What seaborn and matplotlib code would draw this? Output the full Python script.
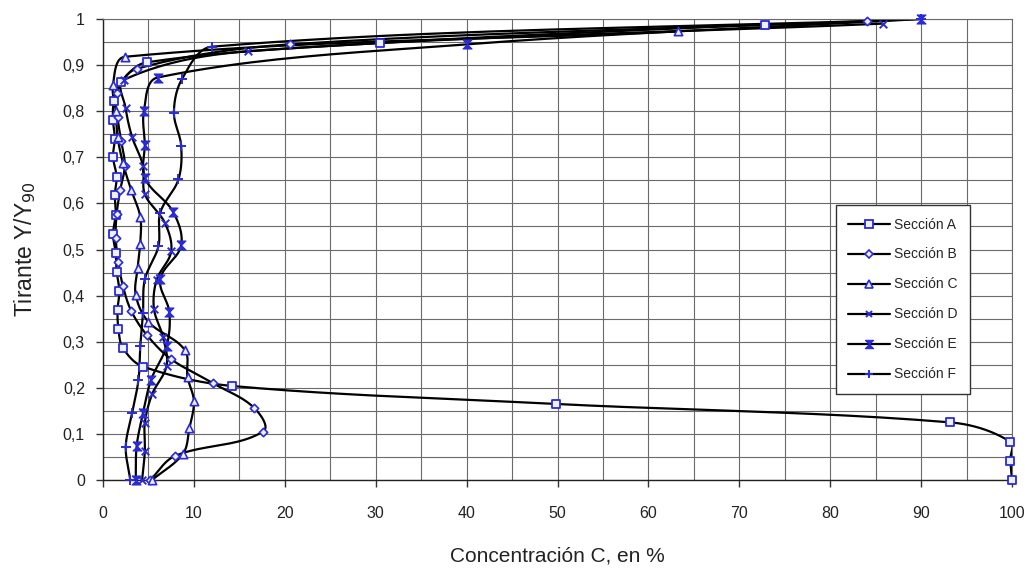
import numpy as np
import pandas as pd
import matplotlib
matplotlib.use("Agg")
import matplotlib.pyplot as plt
from matplotlib.lines import Line2D
from matplotlib.ticker import MultipleLocator, FuncFormatter
import seaborn as sns

# ---------------- data ----------------
sections = ["Sección A", "Sección B", "Sección C", "Sección D", "Sección E", "Sección F"]

a_y = [0, 0.042, 0.083, 0.125, 0.165, 0.204, 0.246, 0.286, 0.327, 0.369, 0.41, 0.452,
       0.492, 0.533, 0.575, 0.618, 0.658, 0.70, 0.74, 0.78, 0.822, 0.864, 0.906, 0.948, 0.988]
a_x = [100, 99.8, 99.8, 93.2, 49.8, 14.2, 4.4, 2.2, 1.7, 1.6, 1.8, 1.5,
       1.4, 1.1, 1.4, 1.3, 1.5, 1.1, 1.3, 1.1, 1.2, 2.0, 4.8, 30.5, 72.8]

b_y = [0, 0.052, 0.105, 0.157, 0.21, 0.262, 0.315, 0.367, 0.42, 0.472, 0.525, 0.577,
       0.63, 0.682, 0.735, 0.787, 0.84, 0.892, 0.945, 0.995]
b_x = [5.2, 7.9, 17.6, 16.6, 12.1, 7.5, 4.8, 3.1, 2.2, 1.7, 1.4, 1.5,
       1.9, 2.4, 2.0, 1.6, 1.5, 3.7, 20.6, 84.0]

c_y = [0, 0.057, 0.112, 0.171, 0.223, 0.282, 0.343, 0.401, 0.459, 0.513, 0.571, 0.629,
       0.687, 0.745, 0.80, 0.857, 0.918, 0.973]
c_x = [5.4, 8.8, 9.5, 10.0, 9.3, 9.0, 5.0, 3.6, 3.8, 4.1, 4.1, 3.1,
       2.2, 1.6, 1.4, 1.1, 2.4, 63.3]

d_y = [0, 0.062, 0.124, 0.186, 0.248, 0.31, 0.372, 0.434, 0.496, 0.558, 0.62, 0.682,
       0.744, 0.806, 0.868, 0.93, 0.99]
d_x = [4.3, 4.6, 4.6, 5.4, 7.0, 6.6, 5.6, 5.9, 7.5, 6.8, 4.6, 4.4,
       3.2, 2.5, 2.3, 16.0, 85.8]

e_y = [0, 0.073, 0.145, 0.218, 0.291, 0.364, 0.436, 0.509, 0.582, 0.655, 0.727, 0.80,
       0.873, 0.945, 1.0]
e_x = [3.6, 3.7, 4.4, 5.3, 7.0, 7.3, 6.3, 8.6, 7.7, 4.6, 4.6, 4.5,
       6.0, 40.0, 90.0]

f_y = [0, 0.072, 0.145, 0.217, 0.29, 0.362, 0.435, 0.507, 0.58, 0.652, 0.725, 0.797,
       0.87, 0.94, 1.0]
f_x = [3.0, 2.5, 3.2, 3.9, 4.1, 4.4, 4.6, 6.1, 6.3, 8.3, 8.6, 7.8,
       8.7, 12.0, 90.0]

x_ticks = [0, 10, 20, 30, 40, 50, 60, 70, 80, 90, 100]
y_ticks = [0, 0.1, 0.2, 0.3, 0.4, 0.5, 0.6, 0.7, 0.8, 0.9, 1.0]

series_x = [a_x, b_x, c_x, d_x, e_x, f_x]
series_y = [a_y, b_y, c_y, d_y, e_y, f_y]

# ---------------- style ----------------
sns.set_theme(style="white")
plt.rcParams["font.family"] = ["Liberation Sans", "DejaVu Sans"]

BLUE = "#2b2bd6"
LIGHT = "#eef0ff"
hourglass = [(-1, 1), (1, 1), (-1, -1), (1, -1), (-1, 1)]

marker_styles = [
    dict(marker="s", s=36, facecolor=LIGHT, edgecolor=BLUE, linewidth=1.3),
    dict(marker="D", s=18, facecolor=LIGHT, edgecolor=BLUE, linewidth=1.2),
    dict(marker="^", s=36, facecolor=LIGHT, edgecolor=BLUE, linewidth=1.2),
    dict(marker="x", s=30, color=BLUE, linewidth=1.4),
    dict(marker=hourglass, s=42, facecolor=BLUE, edgecolor=BLUE, linewidth=0.8),
    dict(marker="+", s=42, color=BLUE, linewidth=1.4),
]
legend_styles = [
    dict(marker="s", markersize=6, mfc=LIGHT, mec=BLUE, mew=1.3),
    dict(marker="D", markersize=4, mfc=LIGHT, mec=BLUE, mew=1.2),
    dict(marker="^", markersize=6, mfc=LIGHT, mec=BLUE, mew=1.2),
    dict(marker="x", markersize=5, mec=BLUE, mew=1.4),
    dict(marker=hourglass, markersize=6, mfc=BLUE, mec=BLUE, mew=0.8),
    dict(marker="+", markersize=6, mec=BLUE, mew=1.4),
]

W, H = 1030, 571
fig = plt.figure(figsize=(W / 100, H / 100), dpi=100)
ax = fig.add_axes([103 / W, 1 - 480 / H, (1012 - 103) / W, (480 - 19) / H])

# pixel scale for Excel-like smoothing (done in screen proportions)
SX = 909 / 100.0
SY = 461 / 1.0


def _unit(v):
    n = np.hypot(v[0], v[1])
    return v / n if n > 0 else v * 0


def smooth(xs, ys, n=24):
    """Bezier smoothing through the data points, tangents scaled by chord length."""
    P = np.column_stack([np.asarray(xs, float) * SX, np.asarray(ys, float) * SY])
    out = []
    t = np.linspace(0, 1, n)[:, None]
    for i in range(len(P) - 1):
        p0 = P[i - 1] if i > 0 else P[i]
        p1, p2 = P[i], P[i + 1]
        p3 = P[i + 2] if i + 2 < len(P) else P[i + 1]
        L = np.hypot(*(p2 - p1))
        c1 = p1 + _unit(p2 - p0) * L / 3.0
        c2 = p2 - _unit(p3 - p1) * L / 3.0
        seg = ((1 - t) ** 3) * p1 + 3 * ((1 - t) ** 2) * t * c1 + 3 * (1 - t) * t ** 2 * c2 + t ** 3 * p2
        out.append(seg if i == 0 else seg[1:])
    pts = np.vstack(out)
    return pts[:, 0] / SX, pts[:, 1] / SY


for name, xs, ys, ms in zip(sections, series_x, series_y, marker_styles):
    sx_, sy_ = smooth(xs, ys)
    curve = pd.DataFrame({"x": sx_, "y": sy_})
    sns.lineplot(data=curve, x="x", y="y", sort=False, estimator=None,
                 color="black", linewidth=1.6, ax=ax, zorder=2)
    pts = pd.DataFrame({"x": xs, "y": ys})
    sns.scatterplot(data=pts, x="x", y="y", ax=ax, zorder=3, legend=False,
                    clip_on=False, **ms)

# axes
ax.set_xlim(0, 100)
ax.set_ylim(0, 1)
ax.set_xticks(x_ticks)
ax.set_yticks(y_ticks)
ax.xaxis.set_minor_locator(MultipleLocator(5))
ax.yaxis.set_minor_locator(MultipleLocator(0.05))
ax.xaxis.set_major_formatter(FuncFormatter(lambda v, p: f"{v:g}"))
ax.yaxis.set_major_formatter(FuncFormatter(lambda v, p: f"{v:g}".replace(".", ",")))
ax.grid(True, which="both", color="#6a6a6a", linewidth=0.8)
ax.set_axisbelow(True)
for side in ["left", "bottom"]:
    ax.spines[side].set_color("#222222")
    ax.spines[side].set_linewidth(1.0)
for side in ["top", "right"]:
    ax.spines[side].set_color("#6a6a6a")
    ax.spines[side].set_linewidth(0.8)
ax.tick_params(axis="both", which="major", direction="out", length=5, width=1,
               color="#333333", labelsize=11.5, labelcolor="#222222")
ax.tick_params(axis="x", which="major", pad=14, bottom=True)
ax.tick_params(axis="y", which="major", pad=8, left=True)
ax.tick_params(which="minor", length=0)

ax.set_xlabel("Concentración C, en %", fontsize=15, color="#222222", labelpad=18)
ax.set_ylabel("Tirante Y/Y$_{90}$", fontsize=16.5, color="#222222", labelpad=18)

handles = [Line2D([0], [0], color="black", linewidth=1.6, **ls) for ls in legend_styles]
leg = ax.legend(handles, sections, loc="upper left", bbox_to_anchor=(0.806, 0.5965),
                borderaxespad=0, frameon=True, fancybox=False, edgecolor="#333333",
                fontsize=10, handlelength=3.0, handletextpad=0.3, labelspacing=1.15,
                borderpad=0.9)
leg.get_frame().set_linewidth(1.0)
leg.get_frame().set_facecolor("white")
leg.get_frame().set_alpha(1.0)
leg.set_zorder(5)

fig.savefig("out.png", dpi=100, facecolor="white")
